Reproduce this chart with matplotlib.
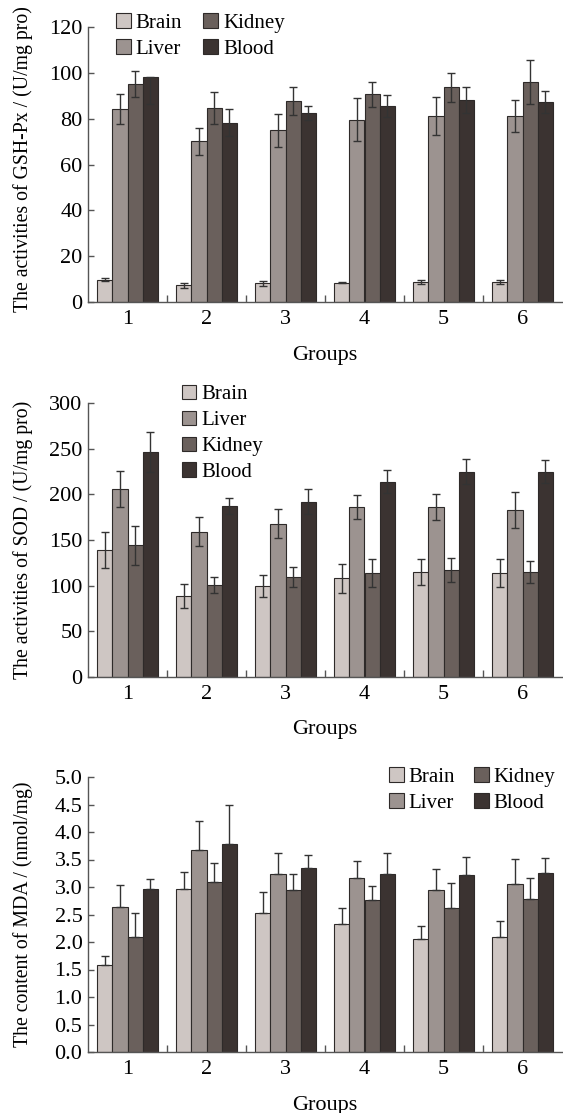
import numpy as np
import matplotlib.pyplot as plt
from matplotlib.ticker import FixedLocator, FormatStrFormatter

plt.rcParams['font.family'] = ['Liberation Serif', 'DejaVu Serif']

groups = [1, 2, 3, 4, 5, 6]
tissues = ["Brain", "Liver", "Kidney", "Blood"]
colors = ["#cec6c3", "#9c9390", "#6a605c", "#3b3331"]

# GSH-Px (U/mg pro)
gsh_brain = [9.8, 7.3, 8.1, 8.5, 8.7, 8.7]
gsh_liver = [84.1, 70.1, 74.9, 79.6, 81.2, 81.2]
gsh_kidney = [95.0, 84.7, 87.7, 90.6, 93.7, 95.9]
gsh_blood = [98.4, 78.3, 82.5, 85.7, 88.3, 87.1]
gsh_brain_err = [0.6, 1.0, 1.0, 0.4, 1.0, 1.0]
gsh_liver_err = [6.5, 5.8, 7.2, 9.5, 8.3, 7.1]
gsh_kidney_err = [5.6, 6.9, 6.2, 5.4, 6.4, 9.6]
gsh_blood_err_lo = [11.8, 5.8, 3.1, 4.8, 5.7, 4.8]
gsh_blood_err_hi = [0.0, 5.8, 3.1, 4.8, 5.7, 4.8]

# SOD (U/mg pro)
sod_brain = [139, 89, 100, 108, 115, 114]
sod_liver = [206, 159, 168, 186, 186, 183]
sod_kidney = [144, 101, 109, 114, 117, 115]
sod_blood = [246, 187, 192, 214, 225, 225]
sod_brain_err = [20, 13, 12, 16, 14, 15]
sod_liver_err = [20, 16, 16, 13, 14, 20]
sod_kidney_err = [21, 9, 11, 15, 13, 12]
sod_blood_err = [22, 9, 14, 13, 14, 13]

# MDA (nmol/mg)
mda_brain = [1.59, 2.96, 2.53, 2.32, 2.05, 2.09]
mda_liver = [2.64, 3.68, 3.24, 3.16, 2.95, 3.05]
mda_kidney = [2.09, 3.09, 2.95, 2.76, 2.61, 2.78]
mda_blood = [2.97, 3.78, 3.35, 3.24, 3.21, 3.26]
mda_brain_err = [0.16, 0.32, 0.38, 0.29, 0.25, 0.29]
mda_liver_err = [0.39, 0.52, 0.37, 0.32, 0.37, 0.46]
mda_kidney_err = [0.44, 0.35, 0.28, 0.25, 0.46, 0.38]
mda_blood_err = [0.18, 0.72, 0.23, 0.37, 0.34, 0.27]

W, H = 563, 1113
fig = plt.figure(figsize=(W / 100, H / 100), dpi=100)

def axes_px(top, bottom, left=88, right=562):
    return fig.add_axes([left / W, (H - bottom) / H, (right - left) / W, (bottom - top) / H])

ax1 = axes_px(27, 302)
ax2 = axes_px(403, 677)
ax3 = axes_px(777, 1052)

bw = 0.19
x = np.array(groups, dtype=float)
spine_col = "#555555"
err_kw = dict(fmt="none", ecolor="#333333", elinewidth=1.0, capsize=3, capthick=1.0, zorder=3)
fs_tick = 16
fs_leg = 15


def draw(ax, vals, errs, ylim, yticks, ylabel, up_only=False):
    for i, (v, e) in enumerate(zip(vals, errs)):
        pos = x + (i - 1.5) * bw
        ax.bar(pos, v, width=bw, color=colors[i], edgecolor="#2e2a29",
               linewidth=0.8, label=tissues[i], zorder=2)
        if isinstance(e, tuple):
            ye = [e[0], e[1]]
        elif up_only:
            ye = [np.zeros(len(e)), e]
        else:
            ye = e
        ax.errorbar(pos, v, yerr=ye, **err_kw)
    ax.set_xlim(0.5, 6.5)
    ax.set_ylim(*ylim)
    ax.set_yticks(yticks)
    ax.set_xticks(groups)
    ax.xaxis.set_minor_locator(FixedLocator([1.5, 2.5, 3.5, 4.5, 5.5]))
    for s in ["top", "right"]:
        ax.spines[s].set_visible(False)
    for s in ["left", "bottom"]:
        ax.spines[s].set_color(spine_col)
        ax.spines[s].set_linewidth(1.0)
    ax.tick_params(axis="y", direction="in", length=4, width=1, color=spine_col,
                   labelsize=fs_tick, pad=4)
    ax.tick_params(axis="x", which="major", length=0, labelsize=fs_tick, pad=6)
    ax.tick_params(axis="x", which="minor", direction="in", length=5, width=1, color=spine_col)
    ax.set_ylabel(ylabel, fontsize=14.2)
    ax.yaxis.set_label_coords(-0.137, 0.5)
    ax.set_xlabel("Groups", fontsize=16)
    ax.xaxis.set_label_coords(0.5, -0.193)
    ax.xaxis.label.set_va("center")
    ax.yaxis.label.set_va("center")


draw(ax1, [gsh_brain, gsh_liver, gsh_kidney, gsh_blood],
     [gsh_brain_err, gsh_liver_err, gsh_kidney_err, (gsh_blood_err_lo, gsh_blood_err_hi)],
     (0, 120), range(0, 121, 20), "The activities of GSH-Px / (U/mg pro)")
ax1.yaxis.set_label_coords(-0.137, 0.52)
draw(ax2, [sod_brain, sod_liver, sod_kidney, sod_blood],
     [sod_brain_err, sod_liver_err, sod_kidney_err, sod_blood_err],
     (0, 300), range(0, 301, 50), "The activities of SOD / (U/mg pro)")
draw(ax3, [mda_brain, mda_liver, mda_kidney, mda_blood],
     [mda_brain_err, mda_liver_err, mda_kidney_err, mda_blood_err],
     (0, 5), np.arange(0, 5.01, 0.5), "The content of MDA / (nmol/mg)", up_only=True)
ax3.yaxis.set_major_formatter(FormatStrFormatter("%.1f"))

leg_kw = dict(frameon=False, fontsize=fs_leg, handlelength=0.7, handleheight=0.7,
              handletextpad=0.25, borderpad=0, borderaxespad=0, labelspacing=0.3,
              loc="upper left")
ax1.legend(ncol=2, columnspacing=1.0, bbox_to_anchor=(0.059, 1.05), **leg_kw)
ax2.legend(ncol=1, bbox_to_anchor=(0.198, 1.066), **leg_kw)
ax3.legend(ncol=2, columnspacing=0.9, bbox_to_anchor=(0.635, 1.036), **leg_kw)

fig.savefig("out.png", dpi=100)
